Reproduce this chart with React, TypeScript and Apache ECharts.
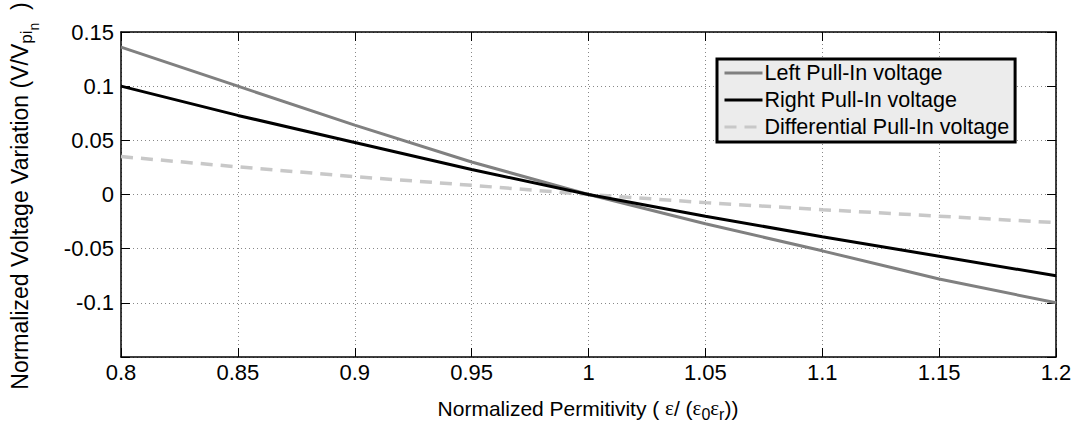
import React, { useEffect, useRef } from "react";
import * as echarts from "echarts";

const permitivity = [0.8, 0.85, 0.9, 0.95, 1.0, 1.05, 1.1, 1.15, 1.2];
const leftPullIn = [0.136, 0.1, 0.064, 0.03, 0.0, -0.027, -0.052, -0.078, -0.1];
const rightPullIn = [0.1, 0.073, 0.048, 0.023, 0.0, -0.02, -0.039, -0.057, -0.075];
const differentialPullIn = [0.035, 0.0255, 0.0165, 0.0085, 0.0, -0.0075, -0.014, -0.02, -0.026];
const seriesNames = ["Left Pull-In voltage", "Right Pull-In voltage", "Differential Pull-In voltage"];

const FONT = "'Liberation Sans', Arial, sans-serif";

export default function App() {
  const ref = useRef<HTMLDivElement>(null);
  useEffect(() => {
    if (!ref.current) return;
    const chart = echarts.init(ref.current, undefined, { renderer: "svg" });
    const toPts = (ys: number[]) => permitivity.map((x, i) => [x, ys[i]]);
    const fmt = (v: number) => String(parseFloat(v.toFixed(2)));
    const grid = { left: 121, right: 20, top: 32, bottom: 76 };
    chart.setOption({
      animation: false,
      backgroundColor: "#ffffff",
      textStyle: { fontFamily: FONT },
      grid,
      legend: {
        orient: "vertical",
        left: 717,
        top: 59,
        padding: [3, 6, 4, 6],
        itemGap: 5,
        itemWidth: 38,
        itemHeight: 14,
        backgroundColor: "#ececec",
        borderColor: "#000000",
        borderWidth: 3,
        borderRadius: 0,
        itemStyle: { opacity: 0 },
        lineStyle: { width: 3 },
        textStyle: { fontSize: 21.5, color: "#000", fontFamily: FONT, lineHeight: 22, padding: [0, 0, 0, -3] },
        data: seriesNames,
      },
      xAxis: [
        {
          type: "value",
          min: 0.8,
          max: 1.2,
          interval: 0.05,
          axisLine: { onZero: false, lineStyle: { color: "#000", width: 1.5 } },
          axisTick: { inside: true, length: 9, lineStyle: { color: "#000" } },
          axisLabel: { color: "#000", fontSize: 22, fontFamily: FONT, margin: 4, formatter: fmt },
          splitLine: { show: true, lineStyle: { color: "#888", type: [1, 3], width: 1 } },
        },
        {
          type: "value",
          position: "top",
          min: 0.8,
          max: 1.2,
          interval: 0.05,
          axisLine: { onZero: false, lineStyle: { color: "#000", width: 1.5 } },
          axisTick: { inside: true, length: 9, lineStyle: { color: "#000" } },
          axisLabel: { show: false },
          splitLine: { show: false },
        },
      ],
      yAxis: [
        {
          type: "value",
          min: -0.15,
          max: 0.15,
          interval: 0.05,
          axisLine: { onZero: false, lineStyle: { color: "#000", width: 1.5 } },
          axisTick: { inside: true, length: 9, lineStyle: { color: "#000" } },
          axisLabel: {
            color: "#000",
            fontSize: 22,
            fontFamily: FONT,
            margin: 7,
            formatter: (v: number) => (Math.abs(v + 0.15) < 1e-9 ? "" : fmt(v)),
          },
          splitLine: { show: true, lineStyle: { color: "#888", type: [1, 3], width: 1 } },
        },
        {
          type: "value",
          position: "right",
          min: -0.15,
          max: 0.15,
          interval: 0.05,
          axisLine: { onZero: false, lineStyle: { color: "#000", width: 1.5 } },
          axisTick: { inside: true, length: 9, lineStyle: { color: "#000" } },
          axisLabel: { show: false },
          splitLine: { show: false },
        },
      ],
      series: [
        {
          name: seriesNames[0],
          type: "line",
          data: toPts(leftPullIn),
          symbol: "none",
          lineStyle: { color: "#808080", width: 3 },
          itemStyle: { color: "#808080" },
          z: 3,
        },
        {
          name: seriesNames[1],
          type: "line",
          data: toPts(rightPullIn),
          symbol: "none",
          lineStyle: { color: "#000000", width: 3 },
          itemStyle: { color: "#000000" },
          z: 4,
        },
        {
          name: seriesNames[2],
          type: "line",
          data: toPts(differentialPullIn),
          symbol: "none",
          lineStyle: { color: "#c8c8c8", width: 3.5, type: [12, 8] },
          itemStyle: { color: "#c8c8c8" },
          z: 2,
        },
      ],
      graphic: [
        {
          type: "text",
          x: 588,
          y: 408,
          style: {
            text: "Normalized Permitivity ( {e|ε}/ ({e|ε}{s|0}{e|ε}{s|r}))",
            font: `21px ${FONT}`,
            fill: "#000",
            align: "center",
            verticalAlign: "middle",
            rich: {
              e: { fontSize: 21, fontFamily: "'Liberation Serif', serif", fill: "#000" },
              s: { fontSize: 16, fontFamily: FONT, padding: [12, 0, 0, 0], fill: "#000" },
            },
          },
        },
        {
          type: "text",
          x: 20,
          y: 196,
          rotation: Math.PI / 2,
          style: {
            text: "Normalized Voltage Variation (V/V{s|pi}{ss|n}{m|  )}",
            font: `23px ${FONT}`,
            fill: "#000",
            align: "center",
            verticalAlign: "middle",
            rich: {
              s: { fontSize: 17, fontFamily: FONT, padding: [12, 0, 0, 0], fill: "#000" },
              ss: { fontSize: 14, fontFamily: FONT, padding: [28, 0, 0, 0], fill: "#000" },
              m: { fontSize: 23, fontFamily: FONT, fill: "#000" },
            },
          },
        },
      ],
    });
    return () => chart.dispose();
  }, []);
  return (
    <div
      ref={ref}
      style={{ position: "fixed", left: 0, top: 0, width: 1076, height: 433 }}
    />
  );
}
